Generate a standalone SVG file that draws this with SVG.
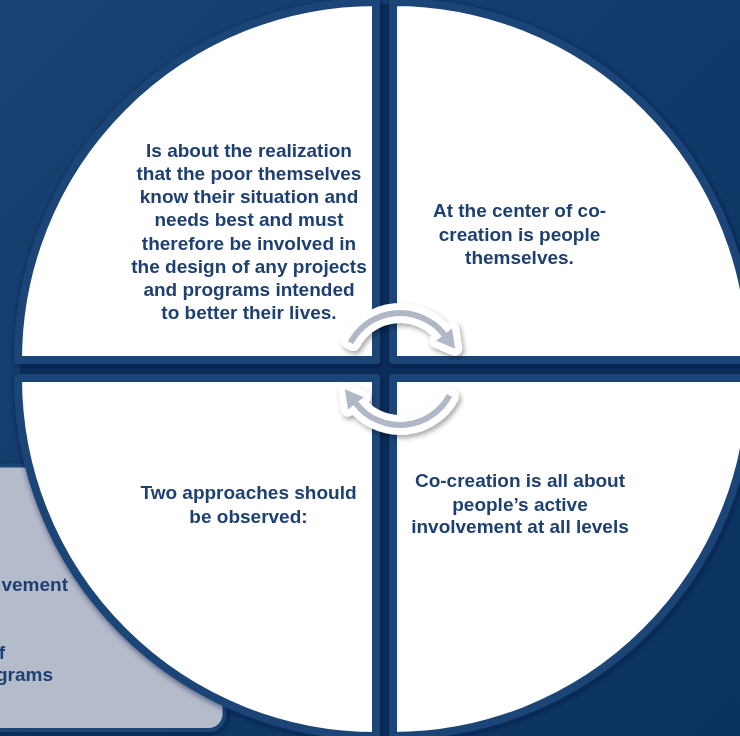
<svg xmlns="http://www.w3.org/2000/svg" width="740" height="736" viewBox="0 0 740 736">
  <defs>
    <linearGradient id="bg" x1="0" y1="0" x2="1" y2="1">
      <stop offset="0" stop-color="#1a4272"/>
      <stop offset="0.5" stop-color="#0f3a69"/>
      <stop offset="1" stop-color="#0b3360"/>
    </linearGradient>
    <filter id="shadow" x="-10%" y="-10%" width="120%" height="120%">
      <feDropShadow dx="1" dy="2" stdDeviation="3" flood-color="#03183a" flood-opacity="0.6"/>
    </filter>
    <filter id="ashadow" x="-20%" y="-20%" width="140%" height="140%">
      <feDropShadow dx="2" dy="3" stdDeviation="2.5" flood-color="#000000" flood-opacity="0.35"/>
    </filter>
  </defs>
  <style>
    .q { fill: #ffffff; stroke: #1f4577; stroke-width: 8; stroke-linejoin: round; }
    .t { font-family: "Liberation Sans", Arial, sans-serif; font-weight: bold; font-size: 19px; fill: #1f3f72; text-anchor: middle; }
    .bt { font-family: "Liberation Sans", Arial, sans-serif; font-weight: bold; font-size: 19px; fill: #1f3f72; text-anchor: end; }
    .arr { fill: #b0b7c6; stroke: #ffffff; stroke-width: 14; stroke-linejoin: round; paint-order: stroke; }
  </style>

  <rect x="0" y="0" width="740" height="736" fill="url(#bg)"/>
  <rect x="379" y="4" width="11" height="732" fill="#0a2f5b"/>
  <rect x="20" y="363" width="720" height="11" fill="#0a2f5b"/>

  <g id="side-box" filter="url(#shadow)">
    <rect x="-20" y="465.5" width="244.5" height="264.5" rx="16" ry="16" fill="#b4bccb" stroke="#1f4577" stroke-width="4"/>
    <text class="bt" x="68" y="591">vement</text>
    <text class="bt" x="5" y="659">f</text>
    <text class="bt" x="53" y="681">grams</text>
  </g>

  <g id="q-top-left" filter="url(#shadow)">
    <path class="q" d="M376,360 L18,360 A358,358 0 0,1 376,2 Z"/>
    <text class="t" x="249" y="156.7">Is about the realization</text>
    <text class="t" x="249" y="179.9">that the poor themselves</text>
    <text class="t" x="249" y="203.1">know their situation and</text>
    <text class="t" x="249" y="226.3">needs best and must</text>
    <text class="t" x="249" y="249.5">therefore be involved in</text>
    <text class="t" x="249" y="272.7">the design of any projects</text>
    <text class="t" x="249" y="295.9">and programs intended</text>
    <text class="t" x="249" y="319.1">to better their lives.</text>
  </g>

  <g id="q-top-right" filter="url(#shadow)">
    <path class="q" d="M393,360 L393,2 A358,358 0 0,1 751,360 Z"/>
    <text class="t" x="519.5" y="217.3">At the center of co-</text>
    <text class="t" x="519.5" y="240.6">creation is people</text>
    <text class="t" x="519.5" y="264">themselves.</text>
  </g>

  <g id="q-bottom-left" filter="url(#shadow)">
    <path class="q" d="M376,378 L376,736 A358,358 0 0,1 18,378 Z"/>
    <text class="t" x="248.5" y="499.3">Two approaches should</text>
    <text class="t" x="248.5" y="522.7">be observed:</text>
  </g>

  <g id="q-bottom-right" filter="url(#shadow)">
    <path class="q" d="M393,378 L751,378 A358,358 0 0,1 393,736 Z"/>
    <text class="t" x="520" y="487.3">Co-creation is all about</text>
    <text class="t" x="520" y="510.7">people’s active</text>
    <text class="t" x="520" y="533.3">involvement at all levels</text>
  </g>

  <g id="connectors" filter="url(#ashadow)">
    <path class="arr" d="M347.9,341.3 A59,59 0 0,1 446.5,332.7 L452.0,328.4 L455.2,348.7 L436.2,340.7 L441.8,336.4 A53,53 0 0,0 353.2,344.1 Z"/>
    <path class="arr" transform="rotate(180 400 369)" d="M347.9,341.3 A59,59 0 0,1 446.5,332.7 L452.0,328.4 L455.2,348.7 L436.2,340.7 L441.8,336.4 A53,53 0 0,0 353.2,344.1 Z"/>
  </g>
</svg>
